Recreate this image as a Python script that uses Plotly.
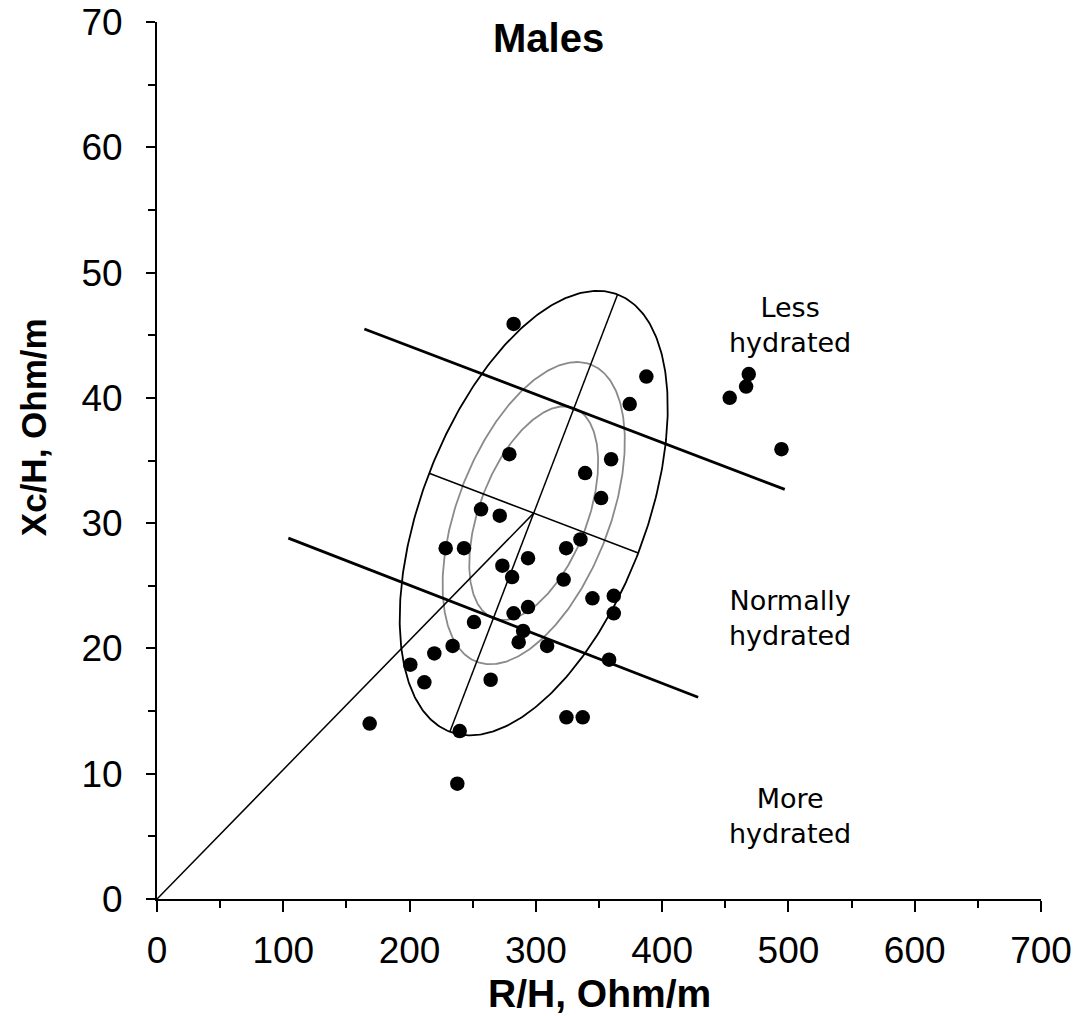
import numpy as np
import plotly.graph_objects as go

# ---- data ----
rh = [282.4, 387.5, 374.3, 468.6, 466.5, 453.5, 494.5, 279.0, 359.6, 339.0,
      351.7, 256.6, 271.4, 335.3, 228.6, 243.1, 324.0, 293.8, 273.5, 281.2,
      322.0, 344.8, 361.7, 361.7, 282.4, 293.8, 251.0, 289.9, 286.4, 308.9,
      358.0, 234.1, 219.6, 200.6, 211.7, 264.2, 168.4, 324.2, 337.1, 239.7,
      237.8]
xch = [45.9, 41.7, 39.5, 41.9, 40.9, 40.0, 35.9, 35.5, 35.1, 34.0,
       32.0, 31.1, 30.6, 28.7, 28.0, 28.0, 28.0, 27.2, 26.6, 25.7,
       25.5, 24.0, 24.2, 22.8, 22.8, 23.3, 22.1, 21.4, 20.5, 20.2,
       19.1, 20.2, 19.6, 18.7, 17.3, 17.5, 14.0, 14.5, 14.5, 13.4,
       9.2]

ellipse_center = [298.3, 30.8]
ellipse_major = [66.4, 17.45]
ellipse_minor = [82.8, -3.18]
ellipse_scales = [0.481, 0.680, 1.0]
ellipse_colors = ["#8a8a8a", "#8a8a8a", "#000000"]

origin_line_x = [0, 298.3]
origin_line_y = [0, 30.8]
major_axis_x = [231.9, 364.7]
major_axis_y = [13.35, 48.25]
minor_axis_x = [215.5, 381.1]
minor_axis_y = [33.98, 27.62]
upper_line_x = [164.2, 497.1]
upper_line_y = [45.5, 32.7]
lower_line_x = [104.0, 428.5]
lower_line_y = [28.8, 16.1]

zone_labels = ["Less<br>hydrated", "Normally<br>hydrated", "More<br>hydrated"]
zone_x = [501.5, 501.5, 501.5]
zone_y = [45.8, 22.4, 6.6]

x_ticks = [0, 100, 200, 300, 400, 500, 600, 700]
y_ticks = [0, 10, 20, 30, 40, 50, 60, 70]

fig = go.Figure()

t = np.linspace(0, 2 * np.pi, 400)
for s, col in zip(ellipse_scales, ellipse_colors):
    ex = ellipse_center[0] + s * (ellipse_major[0] * np.cos(t) + ellipse_minor[0] * np.sin(t))
    ey = ellipse_center[1] + s * (ellipse_major[1] * np.cos(t) + ellipse_minor[1] * np.sin(t))
    fig.add_trace(go.Scatter(x=ex, y=ey, mode="lines",
                             line=dict(color=col, width=1.8),
                             hoverinfo="skip", showlegend=False))

for lx, ly, w in [(origin_line_x, origin_line_y, 1.5),
                  (major_axis_x, major_axis_y, 1.5),
                  (minor_axis_x, minor_axis_y, 1.5),
                  (upper_line_x, upper_line_y, 2.8),
                  (lower_line_x, lower_line_y, 2.8)]:
    fig.add_trace(go.Scatter(x=lx, y=ly, mode="lines",
                             line=dict(color="black", width=w),
                             hoverinfo="skip", showlegend=False))

fig.add_trace(go.Scatter(x=rh, y=xch, mode="markers",
                         marker=dict(color="black", size=14.5),
                         showlegend=False))

tick_font = dict(family="Liberation Sans, Arial, sans-serif", size=37, color="black")
fig.update_xaxes(range=[0, 700], tickvals=x_ticks, ticktext=[str(v) for v in x_ticks],
                 showline=True, linecolor="black", linewidth=2,
                 ticks="outside", ticklen=11, tickwidth=2, tickcolor="black",
                 minor=dict(dtick=50, ticks="outside", ticklen=7, tickwidth=2, tickcolor="black"),
                 showgrid=False, zeroline=False, tickfont=tick_font,
                 ticklabelstandoff=7, automargin=False)
fig.update_yaxes(range=[0, 70], tickvals=y_ticks, ticktext=[str(v) for v in y_ticks],
                 showline=True, linecolor="black", linewidth=2,
                 ticks="outside", ticklen=9, tickwidth=2, tickcolor="black",
                 minor=dict(dtick=5, ticks="outside", ticklen=7, tickwidth=2, tickcolor="black"),
                 showgrid=False, zeroline=False, tickfont=tick_font,
                 ticklabelstandoff=16, automargin=False)

annotations = [
    dict(text="<b>Males</b>", xref="paper", yref="paper", x=0.4434, y=0.982,
         xanchor="center", yanchor="middle", showarrow=False,
         font=dict(family="Liberation Sans, Arial, sans-serif", size=40, color="black")),
    dict(text="<b>R/H, Ohm/m</b>", xref="paper", yref="paper", x=0.5, y=-0.108,
         xanchor="center", yanchor="middle", showarrow=False,
         font=dict(family="Liberation Sans, Arial, sans-serif", size=39, color="black")),
    dict(text="<b>Xc/H, Ohm/m</b>", xref="paper", yref="paper", x=(33 - 157) / 884, y=0.538,
         xanchor="center", yanchor="middle", showarrow=False, textangle=-90,
         font=dict(family="Liberation Sans, Arial, sans-serif", size=35, color="black")),
]
for lab, zx, zy in zip(zone_labels, zone_x, zone_y):
    annotations.append(dict(text=lab, x=zx, y=zy, xref="x", yref="y",
                            xanchor="center", yanchor="middle", showarrow=False,
                            font=dict(family="DejaVu Sans, sans-serif", size=27, color="black")))

fig.update_layout(width=1090, height=1016,
                  margin=dict(l=157, r=49, t=22, b=117),
                  plot_bgcolor="white", paper_bgcolor="white",
                  annotations=annotations, showlegend=False)

fig.write_html("out.html", config={"displayModeBar": False},
               post_script="document.body.style.margin='0';document.body.style.overflow='hidden';")
